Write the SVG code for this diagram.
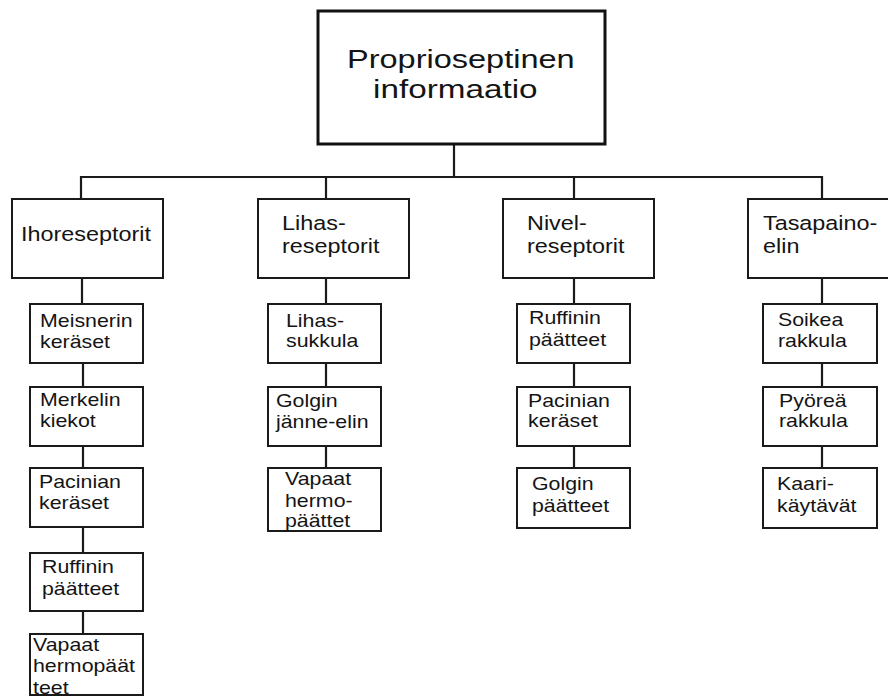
<svg xmlns="http://www.w3.org/2000/svg" width="888" height="697" viewBox="0 0 888 697">
<style>
rect.b{fill:#fff;stroke:#1a1a1a;stroke-width:2}
rect.top{fill:#fff;stroke:#111;stroke-width:3}
.c line{stroke:#1a1a1a;stroke-width:2.2}
text{font-family:"Liberation Sans",Arial,sans-serif;fill:#141414}
.t0{font-size:25.6px}
.t1{font-size:19.5px}
.t2{font-size:17.5px}
</style>
<rect width="888" height="697" fill="#fff"/>
<g class="c" id="connectors">
<line x1="454" y1="144" x2="454" y2="178"/>
<line x1="80" y1="177" x2="823" y2="177"/>
<line x1="81" y1="176" x2="81" y2="199"/>
<line x1="326" y1="176" x2="326" y2="199"/>
<line x1="574" y1="176" x2="574" y2="199"/>
<line x1="822" y1="176" x2="822" y2="199"/>
<line x1="82" y1="278" x2="82" y2="304"/>
<line x1="83" y1="363" x2="83" y2="387"/>
<line x1="83" y1="446" x2="83" y2="468"/>
<line x1="83" y1="527" x2="83" y2="553"/>
<line x1="83" y1="611" x2="83" y2="634"/>
<line x1="326" y1="278" x2="326" y2="304"/>
<line x1="326" y1="363" x2="326" y2="387"/>
<line x1="326" y1="446" x2="326" y2="468"/>
<line x1="574" y1="278" x2="574" y2="304"/>
<line x1="574" y1="363" x2="574" y2="387"/>
<line x1="574" y1="446" x2="574" y2="468"/>
<line x1="822" y1="278" x2="822" y2="304"/>
<line x1="822" y1="363" x2="822" y2="387"/>
<line x1="822" y1="446" x2="822" y2="468"/>
</g>
<g id="root">
<rect class="top" x="318" y="11" width="287" height="133"/>
<text class="t0" transform="translate(347,68) scale(1.27,1)">Proprioseptinen</text>
<text class="t0" transform="translate(373,98) scale(1.3,1)">informaatio</text>
</g>
<g id="ihoreseptorit">
<rect class="b" x="12" y="199" width="151" height="79"/>
<text class="t1" transform="translate(21,241) scale(1.2,1)">Ihoreseptorit</text>
</g>
<g id="lihasreseptorit">
<rect class="b" x="258" y="199" width="151" height="79"/>
<text class="t1" transform="translate(282,230) scale(1.2,1)">Lihas-</text>
<text class="t1" transform="translate(282,253) scale(1.2,1)">reseptorit</text>
</g>
<g id="nivelreseptorit">
<rect class="b" x="503" y="199" width="151" height="79"/>
<text class="t1" transform="translate(527,230) scale(1.2,1)">Nivel-</text>
<text class="t1" transform="translate(527,253) scale(1.2,1)">reseptorit</text>
</g>
<g id="tasapainoelin">
<rect class="b" x="748" y="199" width="150" height="79"/>
<text class="t1" transform="translate(763,230) scale(1.2,1)">Tasapaino-</text>
<text class="t1" transform="translate(763,253) scale(1.2,1)">elin</text>
</g>
<g id="meisnerin">
<rect class="b" x="30" y="304" width="113" height="59"/>
<text class="t2" transform="translate(40,327) scale(1.22,1)">Meisnerin</text>
<text class="t2" transform="translate(40,348) scale(1.22,1)">keräset</text>
</g>
<g id="merkelin">
<rect class="b" x="30" y="387" width="113" height="59"/>
<text class="t2" transform="translate(40,406) scale(1.22,1)">Merkelin</text>
<text class="t2" transform="translate(40,427) scale(1.22,1)">kiekot</text>
</g>
<g id="pacinian-iho">
<rect class="b" x="30" y="468" width="113" height="59"/>
<text class="t2" transform="translate(39,488) scale(1.22,1)">Pacinian</text>
<text class="t2" transform="translate(39,509) scale(1.22,1)">keräset</text>
</g>
<g id="ruffinin-iho">
<rect class="b" x="30" y="553" width="113" height="58"/>
<text class="t2" transform="translate(42,573) scale(1.22,1)">Ruffinin</text>
<text class="t2" transform="translate(42,595) scale(1.22,1)">päätteet</text>
</g>
<g id="vapaat-iho">
<rect class="b" x="30" y="634" width="113" height="61"/>
<text class="t2" transform="translate(33,651) scale(1.22,1)">Vapaat</text>
<text class="t2" transform="translate(33,672) scale(1.22,1)">hermopäät</text>
<text class="t2" transform="translate(33,694) scale(1.22,1)">teet</text>
</g>
<g id="lihassukkula">
<rect class="b" x="268" y="304" width="113" height="59"/>
<text class="t2" transform="translate(286,327) scale(1.22,1)">Lihas-</text>
<text class="t2" transform="translate(286,347) scale(1.22,1)">sukkula</text>
</g>
<g id="golgin-janne">
<rect class="b" x="268" y="387" width="113" height="59"/>
<text class="t2" transform="translate(276,407) scale(1.22,1)">Golgin</text>
<text class="t2" transform="translate(276,428) scale(1.22,1)">jänne-elin</text>
</g>
<g id="vapaat-lihas">
<rect class="b" x="268" y="468" width="113" height="63"/>
<text class="t2" transform="translate(285,485) scale(1.22,1)">Vapaat</text>
<text class="t2" transform="translate(285,507) scale(1.22,1)">hermo-</text>
<text class="t2" transform="translate(285,527) scale(1.22,1)">päättet</text>
</g>
<g id="ruffinin-nivel">
<rect class="b" x="517" y="304" width="113" height="59"/>
<text class="t2" transform="translate(529,324) scale(1.22,1)">Ruffinin</text>
<text class="t2" transform="translate(529,346) scale(1.22,1)">päätteet</text>
</g>
<g id="pacinian-nivel">
<rect class="b" x="517" y="387" width="113" height="59"/>
<text class="t2" transform="translate(528,407) scale(1.22,1)">Pacinian</text>
<text class="t2" transform="translate(528,427) scale(1.22,1)">keräset</text>
</g>
<g id="golgin-paatteet">
<rect class="b" x="517" y="468" width="113" height="60"/>
<text class="t2" transform="translate(532,490) scale(1.22,1)">Golgin</text>
<text class="t2" transform="translate(532,512) scale(1.22,1)">päätteet</text>
</g>
<g id="soikea">
<rect class="b" x="763" y="304" width="114" height="59"/>
<text class="t2" transform="translate(778,326) scale(1.22,1)">Soikea</text>
<text class="t2" transform="translate(778,347) scale(1.22,1)">rakkula</text>
</g>
<g id="pyorea">
<rect class="b" x="763" y="387" width="114" height="59"/>
<text class="t2" transform="translate(779,407) scale(1.22,1)">Pyöreä</text>
<text class="t2" transform="translate(779,427) scale(1.22,1)">rakkula</text>
</g>
<g id="kaarikaytavat">
<rect class="b" x="763" y="468" width="114" height="60"/>
<text class="t2" transform="translate(777,490) scale(1.22,1)">Kaari-</text>
<text class="t2" transform="translate(777,512) scale(1.22,1)">käytävät</text>
</g>
</svg>
